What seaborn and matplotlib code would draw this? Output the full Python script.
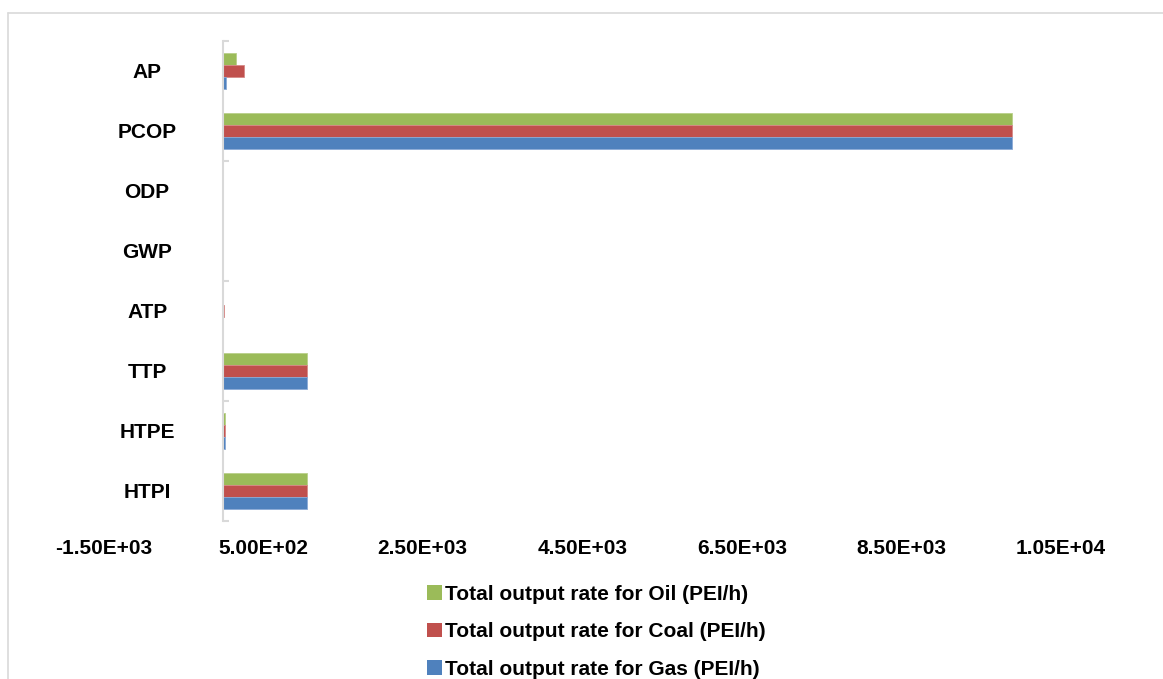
import numpy as np
import pandas as pd
import matplotlib
matplotlib.use("Agg")
import matplotlib.pyplot as plt
from matplotlib.lines import Line2D
from matplotlib.patches import Patch
import seaborn as sns

categories = ["AP", "PCOP", "ODP", "GWP", "ATP", "TTP", "HTPE", "HTPI"]
oil = [159, 9890, 0.02, 1, 3, 1050, 30, 1050]
coal = [263, 9890, 0.03, 4, 8, 1050, 28, 1050]
gas = [38, 9890, 0.02, 1, 2, 1050, 27, 1050]
series_names = ["Total output rate for Oil (PEI/h)",
                "Total output rate for Coal (PEI/h)",
                "Total output rate for Gas (PEI/h)"]
colors = ["#9BBB59", "#C0504D", "#4F81BD"]
edge_colors = ["#B9D08A", "#D68A88", "#8BAAD6"]
xticks = [-1500, 500, 2500, 4500, 6500, 8500, 10500]

sns.set_theme(style="white")
plt.rcParams["font.family"] = ["Liberation Sans", "DejaVu Sans"]
plt.rcParams["font.weight"] = "bold"
plt.rcParams["text.color"] = "black"
plt.rcParams["xtick.color"] = "black"
plt.rcParams["ytick.color"] = "black"

rows = []
for name, vals in zip(series_names, [oil, coal, gas]):
    for c, v in zip(categories, vals):
        rows.append({"cat": c, "val": v, "series": name})
df = pd.DataFrame(rows)

W, H = 1163, 679
fig = plt.figure(figsize=(W / 100, H / 100), dpi=100)
ax = fig.add_axes([103.4 / W, 1 - 521 / H, 957.6 / W, 480 / H])

sns.barplot(data=df, y="cat", x="val", hue="series", hue_order=series_names,
            order=categories, palette=colors, orient="h", width=0.61,
            saturation=1, ax=ax, legend=False, errorbar=None, linewidth=0)

# light outline like the original
for container, ec in zip(ax.containers, edge_colors):
    for bar in container:
        bar.set_edgecolor(ec)
        bar.set_linewidth(0.6)

ax.set_xlim(-1500, 10500)
ax.set_ylim(7.5, -0.5)
ax.set_xlabel("")
ax.set_ylabel("")

for s in ["top", "right", "bottom"]:
    ax.spines[s].set_visible(False)
ax.spines["left"].set_position(("data", 0))
ax.spines["left"].set_color("#D9D9D9")
ax.spines["left"].set_linewidth(1.5)

ax.set_xticks(xticks)
ax.set_xticklabels(["{:.2E}".format(t) for t in xticks], fontsize=15, fontweight="bold", color="black")
ax.tick_params(axis="x", length=0, pad=13, labelcolor="black")

ax.set_yticks(range(len(categories)))
ax.set_yticklabels(categories, fontsize=15, fontweight="bold", color="black")
ax.set_yticks([-0.5, 1.5, 3.5, 5.5, 7.5], minor=True)
ax.tick_params(axis="y", which="major", length=0, pad=54.7, labelcolor="black")
ax.tick_params(axis="y", which="minor", direction="in", length=4.5, width=1.5, color="#D9D9D9", left=True)
for lbl in ax.get_yticklabels():
    lbl.set_horizontalalignment("center")

# chart border (Excel chart area)
fig.add_artist(Line2D([7.5 / W, 7.5 / W], [0, 1 - 12.5 / H], transform=fig.transFigure,
                      color="#D9D9D9", linewidth=1.2))
fig.add_artist(Line2D([7.5 / W, 1], [1 - 12.5 / H, 1 - 12.5 / H], transform=fig.transFigure,
                      color="#D9D9D9", linewidth=1.2))

handles = [Patch(facecolor=c, edgecolor="none", label=n) for c, n in zip(colors, series_names)]
leg = fig.legend(handles=handles, loc="upper left", bbox_to_anchor=(427 / W, 1 - 585 / H),
                 frameon=False, prop={"weight": "bold", "size": 15},
                 handlelength=0.7, handleheight=0.7, handletextpad=0.15,
                 labelspacing=0.88, borderpad=0, borderaxespad=0)
for t in leg.get_texts():
    t.set_color("black")

fig.savefig("out.png", dpi=100)
